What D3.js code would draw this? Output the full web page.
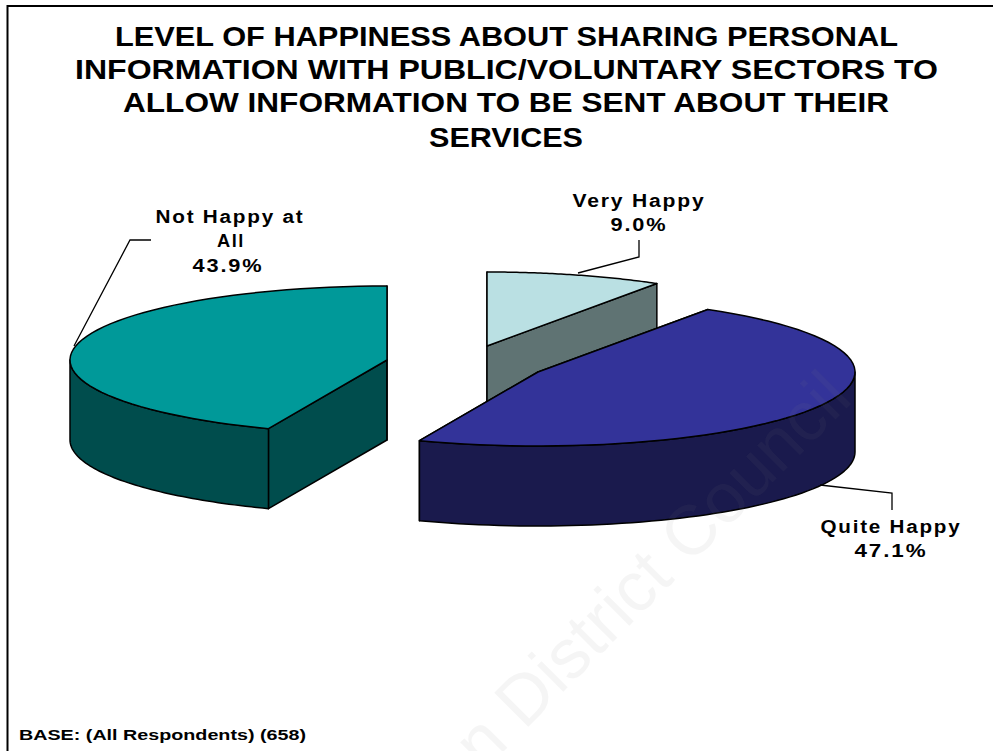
<!DOCTYPE html>
<html><head><meta charset="utf-8">
<style>html,body{margin:0;padding:0;background:#fff}svg{display:block}</style>
<script src="https://cdn.jsdelivr.net/npm/d3@7/dist/d3.min.js"></script></head>
<body><div id="c"></div>
<script>
const categories = ["Very Happy", "Quite Happy", "Not Happy at All"];
const shares = [9.0, 47.1, 43.9];
const shareLabels = ["9.0%", "47.1%", "43.9%"];
const titleLines = ["LEVEL OF HAPPINESS ABOUT SHARING PERSONAL","INFORMATION WITH PUBLIC/VOLUNTARY SECTORS TO","ALLOW INFORMATION TO BE SENT ABOUT THEIR","SERVICES"];
const baseNote = "BASE: (All Respondents) (658)";

const W = 993, H = 751;
const RX = 317, RY = 74, DEPTH = 80;
const layout = [
  {cx:487, cy:346, top:"#bae0e3", side:"#5f7373", leader:[[578,273],[639,257],[639,240]],
   text:[{l:"Very Happy",x:639,y:207,w:133},{l:"9.0%",x:639,y:231,w:57}]},
  {cx:538, cy:372, top:"#333399", side:"#1a1a4d", leader:[[820,485],[892,493],[892,510]],
   text:[{l:"Quite Happy",x:891,y:533,w:141},{l:"47.1%",x:891,y:557,w:73}]},
  {cx:387, cy:360, top:"#009999", side:"#004d4d", leader:[[74,346],[130,240],[151,240]],
   text:[{l:"Not Happy at",x:230,y:223,w:149},{l:"All",x:231,y:247,w:28},{l:"43.9%",x:228,y:272,w:71}]}
];
const titleGeom = [[115,898,46],[75,938,79],[123,889,112],[429,583,147]];

const svg = d3.select("#c").append("svg").attr("width",W).attr("height",H);
svg.append("rect").attr("width",W).attr("height",H).attr("fill","#fff");

const pie = d3.pie().sort(null).value(d=>d)(shares);
const pt = (g,a,dy=0)=>[g.cx+RX*Math.sin(a), g.cy-RY*Math.cos(a)+dy];
const line = d3.line();
const arcPts = (g,a0,a1,dy=0)=>d3.range(0,61).map(i=>pt(g,a0+(a1-a0)*i/60,dy));

const draw = [0,2,1];
draw.forEach(i=>{
  const g = layout[i], s = pie[i], a0=s.startAngle, a1=s.endAngle;
  const group = svg.append("g");
  const style = (sel,f)=>sel.attr("fill",f).attr("stroke","#000").attr("stroke-width",1.5).attr("stroke-linejoin","round");
  [a0,a1].forEach(a=>{
    const p=pt(g,a), c=[g.cx,g.cy];
    style(group.append("path").attr("d",line([c,p,[p[0],p[1]+DEPTH],[c[0],c[1]+DEPTH]])+"Z"),g.side);
  });
  const wa0=Math.max(a0,Math.PI/2), wa1=Math.min(a1,Math.PI*1.5);
  if(wa1>wa0){
    const outer=arcPts(g,wa0,wa1), lower=arcPts(g,wa1,wa0,DEPTH);
    style(group.append("path").attr("d",line(outer.concat(lower))+"Z"),g.side);
  }
  style(group.append("path").attr("d",line([[g.cx,g.cy]].concat(arcPts(g,a0,a1)))+"Z"),g.top);
});

layout.forEach(g=>{
  svg.append("path").attr("d",line(g.leader)).attr("fill","none").attr("stroke","#000").attr("stroke-width",1.3);
  g.text.forEach(t=>{
    svg.append("text").text(t.l).attr("x",t.x).attr("y",t.y).attr("text-anchor","middle")
      .attr("font-family","'Liberation Sans',Arial,sans-serif").attr("font-weight","bold").attr("font-size",17.5)
      .attr("letter-spacing",1.5)
      .attr("textLength",t.w).attr("lengthAdjust","spacingAndGlyphs").attr("fill","#000");
  });
});

titleLines.forEach((l,i)=>{
  const [x0,x1,y]=titleGeom[i];
  svg.append("text").text(l).attr("x",(x0+x1)/2).attr("y",y).attr("text-anchor","middle")
    .attr("font-family","'Liberation Sans',Arial,sans-serif").attr("font-weight","bold").attr("font-size",28)
    .attr("textLength",x1-x0).attr("lengthAdjust","spacingAndGlyphs").attr("fill","#000");
});

svg.append("text").text(baseNote).attr("x",19).attr("y",740)
  .attr("font-family","'Liberation Sans',Arial,sans-serif").attr("font-weight","bold").attr("font-size",15.5)
  .attr("textLength",287).attr("lengthAdjust","spacingAndGlyphs").attr("fill","#000");

svg.append("path").attr("d","M7.5,751V6H993").attr("fill","none").attr("stroke","#000").attr("stroke-width",2);

svg.append("text").text("n District Council").attr("transform","translate(483,772) rotate(-45)")
  .attr("font-family","'Liberation Sans',Arial,sans-serif").attr("font-size",70)
  .attr("fill","#808080").attr("fill-opacity",0.08);
</script></body></html>
